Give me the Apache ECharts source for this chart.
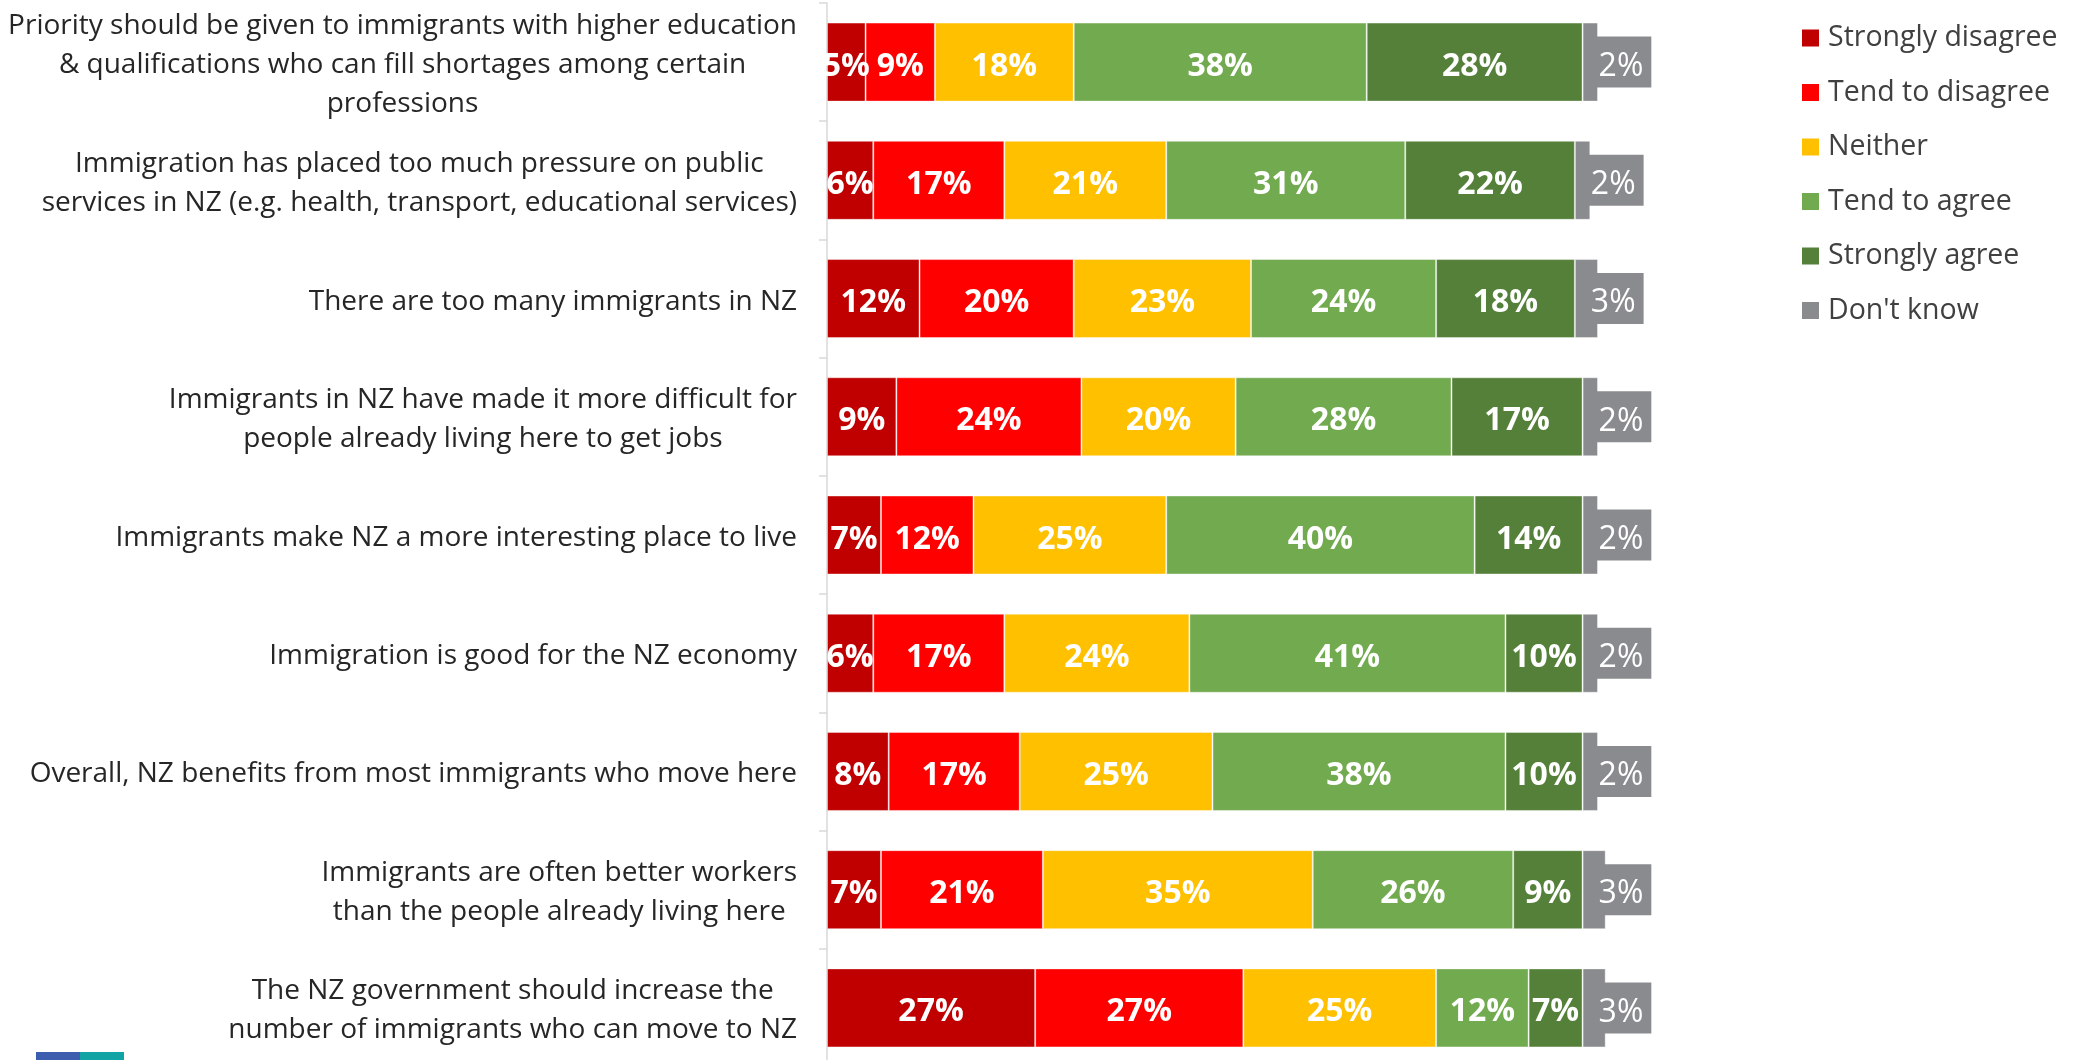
<!DOCTYPE html>
<html>
<head>
<meta charset="utf-8">
<title>Attitudes towards immigration in NZ</title>
<script src="https://cdn.jsdelivr.net/npm/echarts@6/dist/echarts.min.js"></script>
<style>
  html, body { margin: 0; padding: 0; background: #ffffff; }
  #chart { width: 2083px; height: 1060px; }
</style>
</head>
<body>
<div id="chart"></div>
<script>
// Survey statements, top to bottom
const categories = [
  'Priority should be given to immigrants with higher education\n& qualifications who can fill shortages among certain\nprofessions',
  'Immigration has placed too much pressure on public\nservices in NZ (e.g. health, transport, educational services)',
  'There are too many immigrants in NZ',
  'Immigrants in NZ have made it more difficult for\npeople already living here to get jobs',
  'Immigrants make NZ a more interesting place to live',
  'Immigration is good for the NZ economy',
  'Overall, NZ benefits from most immigrants who move here',
  'Immigrants are often better workers\nthan the people already living here',
  'The NZ government should increase the\nnumber of immigrants who can move to NZ'
];

// Response shares (%), one value per statement
const stronglyDisagree = [5, 6, 12, 9, 7, 6, 8, 7, 27];
const tendToDisagree   = [9, 17, 20, 24, 12, 17, 17, 21, 27];
const neither          = [18, 21, 23, 20, 25, 24, 25, 35, 25];
const tendToAgree      = [38, 31, 24, 28, 40, 41, 38, 26, 12];
const stronglyAgree    = [28, 22, 18, 17, 14, 10, 10, 9, 7];
const dontKnow         = [2, 2, 3, 2, 2, 2, 2, 3, 3];

const seriesNames = ['Strongly disagree', 'Tend to disagree', 'Neither', 'Tend to agree', 'Strongly agree', "Don't know"];
const seriesColors = ['#C00000', '#FF0000', '#FFC000', '#72AA4F', '#55803A', '#898B8E'];
const seriesValues = [stronglyDisagree, tendToDisagree, neither, tendToAgree, stronglyAgree, dontKnow];

const FONT = '"Open Sans", "Noto Sans", sans-serif';

const chart = echarts.init(document.getElementById('chart'), null, { renderer: 'canvas' });

const series = seriesValues.map((vals, i) => {
  const last = i === seriesValues.length - 1;
  return {
    name: seriesNames[i],
    type: 'bar',
    stack: 'total',
    data: vals,
    barWidth: 79,
    itemStyle: {
      color: seriesColors[i],
      borderColor: 'rgba(255,255,255,0.4)',
      borderWidth: 1
    },
    // "Don't know" values sit in a grey tab that sticks out past the bar end
    label: last ? {
      show: true,
      position: 'insideLeft',
      distance: 8,
      verticalAlign: 'top',
      offset: [0, -25.5],
      formatter: '{c}%',
      color: '#ffffff',
      fontFamily: FONT,
      fontSize: 32,
      fontWeight: 'normal',
      lineHeight: 33,
      backgroundColor: seriesColors[i],
      padding: [13.7, 8, 4.3, 8]
    } : {
      show: true,
      position: 'inside',
      offset: [0, 4.5],
      formatter: '{c}%',
      color: '#ffffff',
      fontFamily: FONT,
      fontSize: 32,
      fontWeight: 'bold'
    },
    emphasis: { disabled: true },
    animation: false
  };
});

chart.setOption({
  backgroundColor: '#ffffff',
  animation: false,
  grid: {
    left: 827,
    top: 3,
    width: 848.1,
    height: 1064,
    containLabel: false,
    outerBoundsMode: 'none'
  },
  xAxis: {
    type: 'value',
    min: 0,
    max: 110,
    show: false
  },
  yAxis: {
    type: 'category',
    data: categories,
    inverse: true,
    axisLine: { show: true, lineStyle: { color: '#D9D9D9', width: 1.5 } },
    axisTick: { show: true, length: 8, lineStyle: { color: '#D9D9D9', width: 1.5 } },
    splitLine: { show: false },
    axisLabel: {
      margin: 30,
      padding: [6, 0, 0, 0],
      formatter: v => v.split('\n').map(s => '{c|' + s + '}').join('\n'),
      rich: {
        c: {
          align: 'center',
          fontFamily: FONT,
          fontSize: 28,
          lineHeight: 39,
          color: '#262626'
        }
      }
    }
  },
  legend: {
    orient: 'vertical',
    left: 1802,
    top: 23,
    padding: 0,
    itemWidth: 17,
    itemHeight: 17,
    itemGap: 24.5,
    icon: 'rect',
    selectedMode: false,
    itemStyle: { borderWidth: 0 },
    textStyle: {
      fontFamily: FONT,
      fontSize: 28.5,
      lineHeight: 30,
      color: '#404040',
      padding: [0, 0, 0, 4]
    },
    data: seriesNames
  },
  graphic: [
    { type: 'rect', left: 36, top: 1052, shape: { width: 44, height: 8 }, style: { fill: '#3D5DAE' } },
    { type: 'rect', left: 80, top: 1052, shape: { width: 44, height: 8 }, style: { fill: '#12A3A5' } }
  ],
  series: series
});
</script>
</body>
</html>
